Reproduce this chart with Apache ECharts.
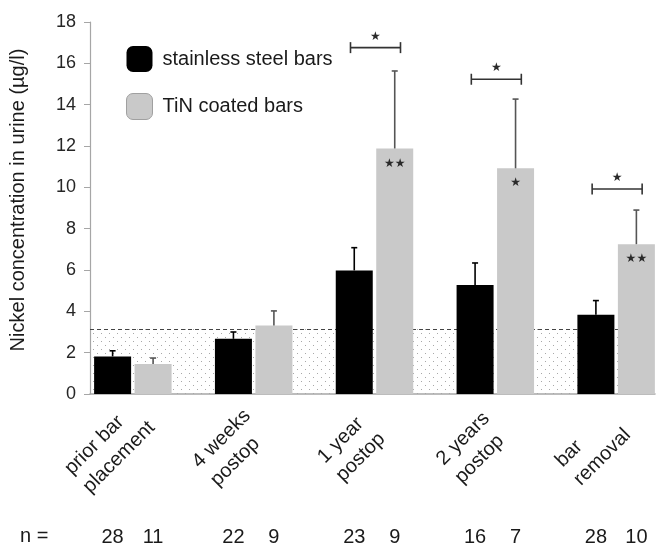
<!DOCTYPE html>
<html><head><meta charset="utf-8">
<script src="https://cdn.jsdelivr.net/npm/echarts@6/dist/echarts.min.js"></script>
<style>html,body{margin:0;padding:0;background:#fff}#chart{width:666px;height:557px}</style>
</head><body><div id="chart"></div>
<script>
// ---------------- data ----------------
const categories = ['prior bar\nplacement', '4 weeks\npostop', '1 year\npostop', '2 years\npostop', 'bar\nremoval'];
const seriesNames = ['stainless steel bars', 'TiN coated bars'];
const steelMean = [1.82, 2.67, 5.98, 5.27, 3.83];
const steelErr  = [0.27, 0.33, 1.10, 1.07, 0.69];
const tinMean   = [1.45, 3.31, 11.88, 10.92, 7.25];
const tinErr    = [0.29, 0.71, 3.75, 3.35, 1.65];
const steelN = [28, 22, 23, 16, 28];
const tinN   = [11, 9, 9, 7, 10];
const inBarStars = ['', '', '★★', '★', '★★'];
const bracketLevel = [null, null, 16.76, 15.23, 9.92];
const bracketStars = ['', '', '★', '★', '★'];
const referenceLimit = 3.15;
const yMin = 0, yMax = 18, yStep = 2;
const nLabel = 'n =';
const yTitle = 'Nickel concentration in urine (µg/l)';

// ---------------- layout ----------------
const FONT = '"Liberation Sans", Arial, sans-serif';
const BAR_OFFSET = 0.1675;
const X_MIN = -0.3546, X_MAX = 4.3216;
const GREY = '#c9c9c9';

const mctx = document.createElement('canvas').getContext('2d');
mctx.font = '20px "Liberation Sans"';
function maxLineWidth(t) { return Math.max.apply(null, t.split('\n').map(s => mctx.measureText(s).width)); }

// dotted pattern
const pat = document.createElement('canvas');
pat.width = 8; pat.height = 8;
const pctx = pat.getContext('2d');
pctx.fillStyle = '#ffffff'; pctx.fillRect(0, 0, 8, 8);
pctx.fillStyle = '#a8a8a8';
pctx.fillRect(1, 1, 1, 1);
pctx.fillRect(5, 5, 1, 1);

const chart = echarts.init(document.getElementById('chart'), null, {renderer: 'canvas'});

function errorSeries(means, errs, sign, color) {
  return {
    type: 'custom',
    silent: true,
    z: 4,
    data: means.map((v, i) => [i + sign * BAR_OFFSET, v, v + errs[i]]),
    encode: {x: 0, y: [1, 2]},
    renderItem: function (params, api) {
      const x = api.value(0);
      const lo = api.coord([x, api.value(1)]);
      const hi = api.coord([x, api.value(2)]);
      const st = {stroke: color, lineWidth: 1.6};
      return {type: 'group', children: [
        {type: 'line', shape: {x1: lo[0], y1: lo[1], x2: hi[0], y2: hi[1]}, style: st},
        {type: 'line', shape: {x1: hi[0] - 3, y1: hi[1], x2: hi[0] + 3, y2: hi[1]}, style: st}
      ]};
    }
  };
}

const STAR_FONT = '12px "DejaVu Sans"';

const option = {
  animation: false,
  backgroundColor: '#fff',
  textStyle: {fontFamily: FONT},
  grid: {left: 88, right: 11, top: 22, bottom: 163},
  legend: {
    left: 121, top: 41, orient: 'vertical',
    itemWidth: 26, itemHeight: 26, itemGap: 21,
    icon: 'roundRect',
    textStyle: {fontSize: 20, color: '#1a1a1a', fontFamily: FONT, padding: [0, 0, 0, 5]},
    data: [
      {name: seriesNames[0], itemStyle: {color: '#000'}},
      {name: seriesNames[1], itemStyle: {color: GREY, borderColor: '#a0a0a0', borderWidth: 1}}
    ]
  },
  xAxis: {
    type: 'value', min: X_MIN, max: X_MAX,
    axisLine: {show: true, onZero: false, lineStyle: {color: '#a6a6a6', width: 1.5}},
    axisTick: {show: false}, axisLabel: {show: false}, splitLine: {show: false}
  },
  yAxis: {
    type: 'value', min: yMin, max: yMax, interval: yStep,
    name: yTitle, nameLocation: 'middle', nameGap: 62, nameRotate: 90,
    nameTextStyle: {fontSize: 20, color: '#1a1a1a', fontFamily: FONT, padding: [0, 0, 0, 16]},
    axisLine: {show: true, onZero: false, lineStyle: {color: '#a6a6a6', width: 1.2}},
    axisTick: {show: true, length: 6, lineStyle: {color: '#a6a6a6'}},
    axisLabel: {fontSize: 18, color: '#262626', margin: 14, fontFamily: FONT},
    splitLine: {show: false}
  },
  graphic: [{
    type: 'text', left: 20, top: 526,
    style: {text: nLabel, font: '20px ' + FONT, fill: '#1a1a1a'}
  }],
  series: [
    {
      type: 'bar', name: seriesNames[0],
      data: steelMean.map((v, i) => [i - BAR_OFFSET, v]),
      barWidth: 37, barGap: '-100%', z: 2,
      itemStyle: {color: '#000'},
      markArea: {
        silent: true, z: 0,
        itemStyle: {color: {image: pat, repeat: 'repeat'}},
        data: [[{yAxis: 0}, {yAxis: referenceLimit}]]
      },
      markLine: {
        silent: true, z: 1, symbol: 'none',
        label: {show: false},
        lineStyle: {type: [4, 3], color: '#444', width: 1},
        data: [{yAxis: referenceLimit}]
      }
    },
    {
      type: 'bar', name: seriesNames[1],
      data: tinMean.map((v, i) => [i + BAR_OFFSET, v]),
      barWidth: 37, barGap: '-100%', z: 2,
      itemStyle: {color: GREY}
    },
    errorSeries(steelMean, steelErr, -1, '#000'),
    errorSeries(tinMean, tinErr, 1, '#555'),
    // stars inside TiN bars
    {
      type: 'custom', silent: true, z: 5,
      data: tinMean.map((v, i) => [i + BAR_OFFSET, v]),
      encode: {x: 0, y: 1},
      renderItem: function (params, api) {
        const s = inBarStars[params.dataIndex];
        if (!s) return null;
        const p = api.coord([api.value(0), api.value(1)]);
        return {type: 'text', x: p[0], y: p[1] + 15,
          style: {text: s, font: STAR_FONT, fill: '#2a2a2a', align: 'center', verticalAlign: 'middle'}};
      }
    },
    // significance brackets
    {
      type: 'custom', silent: true, z: 5,
      data: bracketLevel.map((v, i) => [i, v == null ? 0 : v]),
      encode: {x: 0, y: 1},
      renderItem: function (params, api) {
        if (bracketLevel[params.dataIndex] == null) return null;
        const p = api.coord([api.value(0), api.value(1)]);
        const x1 = p[0] - 24, x2 = p[0] + 26, y = p[1];
        const st = {stroke: '#333', lineWidth: 1.6};
        return {type: 'group', children: [
          {type: 'line', shape: {x1: x1, y1: y, x2: x2, y2: y}, style: st},
          {type: 'line', shape: {x1: x1, y1: y - 5.5, x2: x1, y2: y + 5.5}, style: st},
          {type: 'line', shape: {x1: x2, y1: y - 5.5, x2: x2, y2: y + 5.5}, style: st},
          {type: 'text', x: p[0] + 1, y: y - 11,
            style: {text: bracketStars[params.dataIndex], font: STAR_FONT, fill: '#2a2a2a', align: 'center', verticalAlign: 'middle'}}
        ]};
      }
    },
    // rotated category labels
    {
      type: 'custom', silent: true, z: 5,
      data: categories.map((c, i) => [i, 0]),
      encode: {x: 0, y: 1},
      renderItem: function (params, api) {
        const t = categories[params.dataIndex];
        const p = api.coord([api.value(0), 0]);
        const w = maxLineWidth(t);
        return {type: 'text', x: p[0] - 23, y: p[1] + 54, rotation: Math.PI / 4,
          style: {text: t, x: -w / 2, y: 0, font: '20px ' + FONT, lineHeight: 26, fill: '#1a1a1a', align: 'left', verticalAlign: 'middle'}};
      }
    },
    // n counts
    {
      type: 'custom', silent: true, z: 5,
      data: steelN.map((n, i) => [i - BAR_OFFSET, 0, n]).concat(tinN.map((n, i) => [i + BAR_OFFSET, 0, n])),
      encode: {x: 0, y: 1},
      renderItem: function (params, api) {
        const p = api.coord([api.value(0), 0]);
        return {type: 'text', x: p[0], y: p[1] + 143,
          style: {text: String(api.value(2)), font: '20px ' + FONT, fill: '#1a1a1a', align: 'center', verticalAlign: 'middle'}};
      }
    }
  ]
};
chart.setOption(option);
</script>
</body></html>
